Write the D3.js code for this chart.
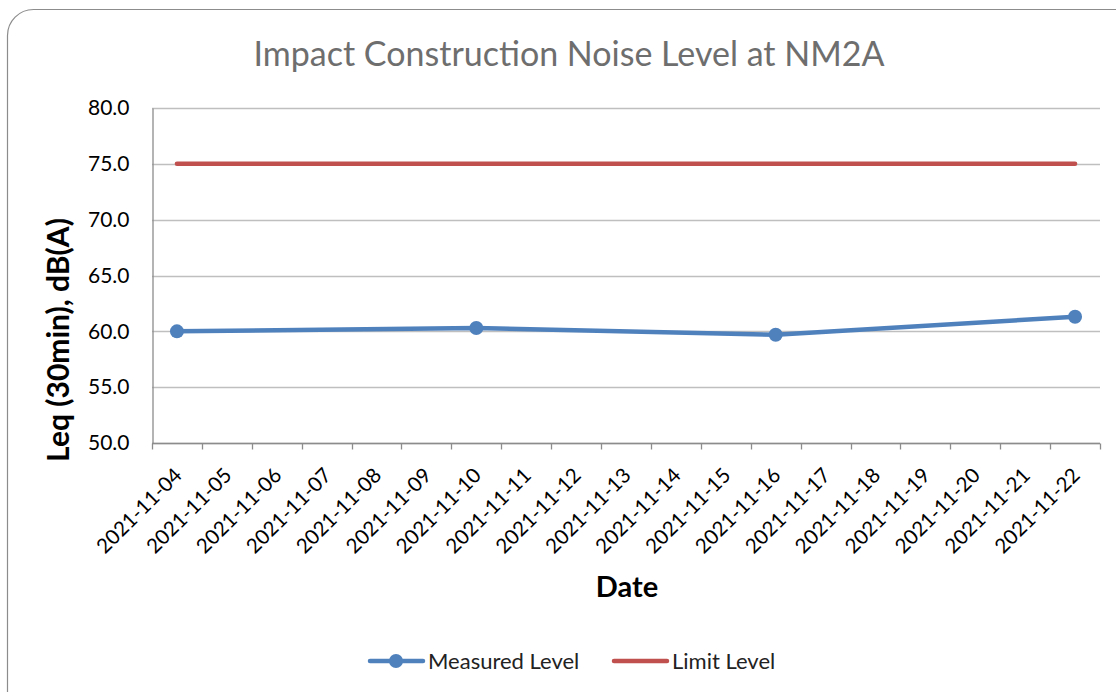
<!DOCTYPE html>
<html>
<head>
<meta charset="utf-8">
<script src="https://cdn.jsdelivr.net/npm/d3@7"></script>
<style>
  body { margin: 0; background: #fff; }
  svg text { font-family: Lato, "Open Sans", sans-serif; }
</style>
</head>
<body>
<div id="chart"></div>
<script>
// chart data
const dates = ["2021-11-04","2021-11-05","2021-11-06","2021-11-07","2021-11-08","2021-11-09","2021-11-10",
  "2021-11-11","2021-11-12","2021-11-13","2021-11-14","2021-11-15","2021-11-16","2021-11-17",
  "2021-11-18","2021-11-19","2021-11-20","2021-11-21","2021-11-22"];
const measuredDates = ["2021-11-04", "2021-11-10", "2021-11-16", "2021-11-22"];
const measuredValues = [60.0, 60.3, 59.7, 61.3];
const limitValues = [75,75,75,75,75,75,75,75,75,75,75,75,75,75,75,75,75,75,75];
const yTicks = [50, 55, 60, 65, 70, 75, 80];

const width = 1116, height = 692;
const margin = { top: 108, right: 16, bottom: 249, left: 152 };

const svg = d3.select("#chart").append("svg")
  .attr("width", width)
  .attr("height", height);

// outer chart frame
svg.append("rect")
  .attr("x", 7.5).attr("y", 9.5)
  .attr("width", 1140).attr("height", 710)
  .attr("rx", 26)
  .attr("fill", "#fff")
  .attr("stroke", "#8c8c8c")
  .attr("stroke-width", 1.2);

const x = d3.scaleBand()
  .domain(dates)
  .range([margin.left, width - margin.right]);

const y = d3.scaleLinear()
  .domain([50, 80])
  .range([height - margin.bottom, margin.top]);

// gridlines
svg.append("g")
  .selectAll("line")
  .data(yTicks)
  .enter().append("line")
  .attr("x1", margin.left)
  .attr("x2", width - margin.right)
  .attr("y1", d => Math.round(y(d)) + 0.5)
  .attr("y2", d => Math.round(y(d)) + 0.5)
  .attr("stroke", "#bfbfbf")
  .attr("stroke-width", 1.3);

// y axis
const yAxis = svg.append("g")
  .attr("transform", `translate(${margin.left + 0.5},0)`)
  .call(d3.axisLeft(y).tickValues(yTicks).tickFormat(d3.format(".1f")).tickSize(0).tickPadding(23));
yAxis.select(".domain").attr("stroke", "#8c8c8c").attr("stroke-width", 1.3);
yAxis.selectAll("text").style("font-size", "21px").attr("fill", "#000");

// x axis: ticks on band boundaries
const xAxisG = svg.append("g")
  .attr("transform", `translate(0,${Math.round(y(50)) + 0.5})`);
xAxisG.append("line")
  .attr("x1", margin.left).attr("x2", width - margin.right)
  .attr("stroke", "#8c8c8c").attr("stroke-width", 1.3);
const bounds = dates.map(d => x(d)).concat([x(dates[dates.length - 1]) + x.bandwidth()]);
xAxisG.selectAll(".xtick")
  .data(bounds)
  .enter().append("line")
  .attr("class", "xtick")
  .attr("x1", d => Math.round(d) + 0.5).attr("x2", d => Math.round(d) + 0.5)
  .attr("y1", 0).attr("y2", 6)
  .attr("stroke", "#8c8c8c").attr("stroke-width", 1.3);
xAxisG.selectAll(".xlabel")
  .data(dates)
  .enter().append("text")
  .attr("class", "xlabel")
  .attr("transform", d => `translate(${x(d) + x.bandwidth() / 2 - 4},${23}) rotate(-45)`)
  .attr("text-anchor", "end")
  .attr("dy", "0.7em")
  .style("font-size", "20.5px")
  .attr("fill", "#000")
  .text(d => d);

// limit line
const line = d3.line()
  .x(d => x(d.date) + x.bandwidth() / 2)
  .y(d => y(d.value));

svg.append("path")
  .datum(dates.map((d, i) => ({ date: d, value: limitValues[i] })))
  .attr("d", line)
  .attr("fill", "none")
  .attr("stroke", "#c0504d")
  .attr("stroke-width", 4.5)
  .attr("stroke-linecap", "round");

// measured line
const measured = measuredDates.map((d, i) => ({ date: d, value: measuredValues[i] }));
svg.append("path")
  .datum(measured)
  .attr("d", line)
  .attr("fill", "none")
  .attr("stroke", "#4f81bd")
  .attr("stroke-width", 4.5)
  .attr("stroke-linejoin", "round");

svg.selectAll(".pt")
  .data(measured)
  .enter().append("circle")
  .attr("class", "pt")
  .attr("cx", d => x(d.date) + x.bandwidth() / 2)
  .attr("cy", d => y(d.value))
  .attr("r", 7)
  .attr("fill", "#4f81bd");

// title
svg.append("text")
  .attr("x", 569).attr("y", 66)
  .attr("text-anchor", "middle")
  .style("font-size", "34px")
  .attr("fill", "#6e6e6e")
  .text("Impact Construction Noise Level at NM2A");

// axis titles
svg.append("text")
  .attr("transform", `translate(69,340) rotate(-90)`)
  .attr("text-anchor", "middle")
  .style("font-size", "30px")
  .style("font-weight", "bold")
  .attr("fill", "#000")
  .text("Leq (30min), dB(A)");

svg.append("text")
  .attr("x", 627).attr("y", 597)
  .attr("text-anchor", "middle")
  .style("font-size", "29px")
  .style("font-weight", "bold")
  .attr("fill", "#000")
  .text("Date");

// legend
const legend = svg.append("g").attr("transform", "translate(0,661)");
legend.append("line")
  .attr("x1", 370).attr("x2", 423)
  .attr("stroke", "#4f81bd").attr("stroke-width", 4.5).attr("stroke-linecap", "round");
legend.append("circle").attr("cx", 396).attr("cy", 0).attr("r", 7).attr("fill", "#4f81bd");
legend.append("text")
  .attr("x", 428).attr("dy", "0.35em")
  .style("font-size", "22px").attr("fill", "#222")
  .text("Measured Level");
legend.append("line")
  .attr("x1", 614).attr("x2", 667)
  .attr("stroke", "#c0504d").attr("stroke-width", 4.5).attr("stroke-linecap", "round");
legend.append("text")
  .attr("x", 672).attr("dy", "0.35em")
  .style("font-size", "22px").attr("fill", "#222")
  .text("Limit Level");
</script>
</body>
</html>
